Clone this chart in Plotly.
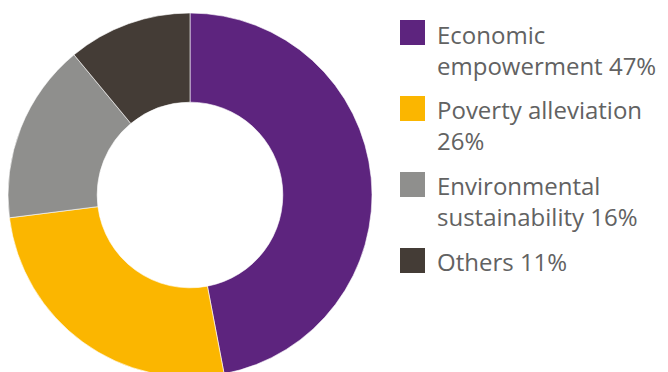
import plotly.graph_objects as go

labels = ["Economic<br>empowerment 47%", "Poverty alleviation<br>26%",
          "Environmental<br>sustainability 16%", "Others 11%"]
names = ["Economic empowerment", "Poverty alleviation",
         "Environmental sustainability", "Others"]
values = [47, 26, 16, 11]
colors = ["#5D247E", "#FBB600", "#8F8F8D", "#443C36"]

W, H = 668, 378
FS = 24


def px(x, y):
    return x / W, 1 - y / H


fig = go.Figure()
fig.add_trace(go.Pie(
    labels=names, values=values, sort=False, direction="clockwise", rotation=0,
    hole=0.51, marker=dict(colors=colors, line=dict(color="white", width=0.6)),
    textinfo="none", hoverinfo="label+percent", showlegend=False,
    domain=dict(x=[8 / W, 372 / W], y=[1 - 377 / H, 1 - 13 / H]),
))

sq_tops = [20, 96, 172, 248]
baselines = [[45, 73], [120, 149], [196, 225], [271]]
shapes = []
annotations = []
for i, (lab, col) in enumerate(zip(labels, colors)):
    x0, y0 = px(400, sq_tops[i])
    x1, y1 = px(425, sq_tops[i] + 25)
    shapes.append(dict(type="rect", xref="paper", yref="paper", x0=x0, x1=x1,
                       y0=y1, y1=y0, fillcolor=col, line=dict(width=0)))
    b = sum(baselines[i]) / len(baselines[i])
    ax, ay = px(436, b - 0.39 * FS)
    annotations.append(dict(xref="paper", yref="paper", x=ax, y=ay, text=lab,
                            showarrow=False, xanchor="left", yanchor="middle",
                            align="left", borderpad=0,
                            font=dict(family="Open Sans", size=FS, color="#626262")))

fig.update_layout(width=W, height=H, margin=dict(l=0, r=0, t=0, b=0),
                  paper_bgcolor="white", plot_bgcolor="white",
                  shapes=shapes, annotations=annotations)

fig.write_html("out.html", post_script="document.body.style.overflow='hidden';document.documentElement.style.overflow='hidden';")
